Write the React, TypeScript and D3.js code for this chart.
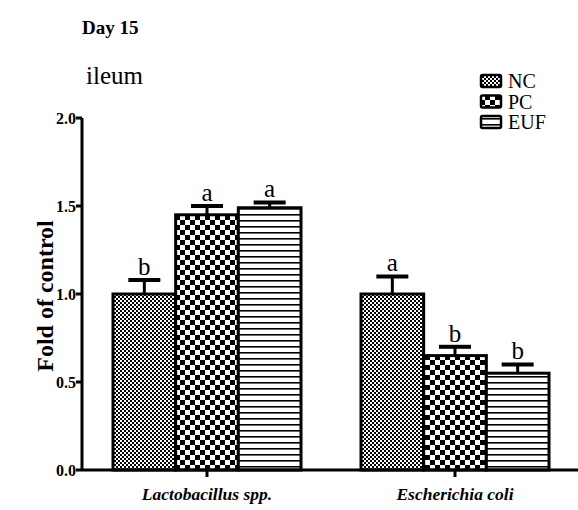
import { useEffect, useRef } from "react";
import * as d3 from "d3";

const categories = ["Lactobacillus spp.", "Escherichia coli"];
const groups = ["NC", "PC", "EUF"];
const means = [
  [1.0, 1.45, 1.49],
  [1.0, 0.65, 0.55],
];
const errors = [
  [0.08, 0.05, 0.03],
  [0.1, 0.05, 0.05],
];
const letters = [
  ["b", "a", "a"],
  ["a", "b", "b"],
];
const yTicks = [0, 0.5, 1.0, 1.5, 2.0];

export default function App() {
  const svgRef = useRef<SVGSVGElement | null>(null);

  useEffect(() => {
    if (!svgRef.current) return;
    const svg = d3.select(svgRef.current);
    svg.selectAll("*").remove();

    const W = 578;
    const serif = "'Liberation Serif', serif";

    // patterns
    const defs = svg.append("defs");
    const nc = defs
      .append("pattern")
      .attr("id", "pNC")
      .attr("patternUnits", "userSpaceOnUse")
      .attr("width", 4)
      .attr("height", 4);
    nc.append("rect").attr("width", 4).attr("height", 4).attr("fill", "#000");
    nc.append("rect").attr("width", 2).attr("height", 2).attr("fill", "#fff");
    nc.append("rect").attr("x", 2).attr("y", 2).attr("width", 2).attr("height", 2).attr("fill", "#fff");

    const pc = defs
      .append("pattern")
      .attr("id", "pPC")
      .attr("patternUnits", "userSpaceOnUse")
      .attr("width", 10)
      .attr("height", 10);
    pc.append("rect").attr("width", 10).attr("height", 10).attr("fill", "#fff");
    pc.append("rect").attr("width", 5).attr("height", 5).attr("fill", "#000");
    pc.append("rect").attr("x", 5).attr("y", 5).attr("width", 5).attr("height", 5).attr("fill", "#000");

    const euf = defs
      .append("pattern")
      .attr("id", "pEUF")
      .attr("patternUnits", "userSpaceOnUse")
      .attr("width", 6)
      .attr("height", 6);
    euf.append("rect").attr("width", 6).attr("height", 6).attr("fill", "#fff");
    euf.append("rect").attr("y", 4).attr("width", 6).attr("height", 1.6).attr("fill", "#000");

    const fills: Record<string, string> = { NC: "url(#pNC)", PC: "url(#pPC)", EUF: "url(#pEUF)" };

    const x0 = 82;
    const y = d3.scaleLinear().domain([0, 2]).range([470, 118]);
    const xc = d3.scalePoint<string>().domain(categories).range([207, 455]);
    const xi = d3.scaleBand<string>().domain(groups).range([-94, 94]).padding(0);

    const g = svg.append("g");

    // bars + error bars
    categories.forEach((cat, ci) => {
      groups.forEach((grp, gi) => {
        const v = means[ci][gi];
        const e = errors[ci][gi];
        const bx = (xc(cat) as number) + (xi(grp) as number);
        const bw = xi.bandwidth();
        const cx = bx + bw / 2;
        g.append("rect")
          .attr("x", bx)
          .attr("y", y(v))
          .attr("width", bw)
          .attr("height", y(0) - y(v))
          .attr("fill", fills[grp])
          .attr("stroke", "#000")
          .attr("stroke-width", 3);
        g.append("line")
          .attr("x1", cx)
          .attr("x2", cx)
          .attr("y1", y(v))
          .attr("y2", y(v + e))
          .attr("stroke", "#000")
          .attr("stroke-width", 3);
        g.append("line")
          .attr("x1", cx - 16)
          .attr("x2", cx + 16)
          .attr("y1", y(v + e))
          .attr("y2", y(v + e))
          .attr("stroke", "#000")
          .attr("stroke-width", 4);
        g.append("text")
          .attr("x", cx)
          .attr("y", y(v + e) - 5)
          .attr("text-anchor", "middle")
          .attr("font-family", serif)
          .attr("font-size", 25)
          .text(letters[ci][gi]);
      });
    });

    // axes
    g.append("line")
      .attr("x1", x0)
      .attr("x2", x0)
      .attr("y1", y(2))
      .attr("y2", y(0))
      .attr("stroke", "#000")
      .attr("stroke-width", 3);
    g.append("line")
      .attr("x1", x0)
      .attr("x2", W)
      .attr("y1", y(0))
      .attr("y2", y(0))
      .attr("stroke", "#000")
      .attr("stroke-width", 3);

    yTicks.forEach((t) => {
      g.append("line")
        .attr("x1", x0 - 6)
        .attr("x2", x0)
        .attr("y1", y(t))
        .attr("y2", y(t))
        .attr("stroke", "#000")
        .attr("stroke-width", 3);
      g.append("text")
        .attr("x", x0 - 6)
        .attr("y", y(t) + 5.5)
        .attr("text-anchor", "end")
        .attr("font-family", serif)
        .attr("font-weight", "bold")
        .attr("font-size", 16)
        .text(t.toFixed(1));
    });

    categories.forEach((cat) => {
      const cx = xc(cat) as number;
      g.append("line")
        .attr("x1", cx)
        .attr("x2", cx)
        .attr("y1", y(0))
        .attr("y2", y(0) + 7)
        .attr("stroke", "#000")
        .attr("stroke-width", 3);
      g.append("text")
        .attr("x", cx)
        .attr("y", 500)
        .attr("text-anchor", "middle")
        .attr("font-family", serif)
        .attr("font-weight", "bold")
        .attr("font-style", "italic")
        .attr("font-size", 17.5)
        .text(cat);
    });

    g.append("text")
      .attr("transform", `translate(53,${(y(0) + y(2)) / 2 + 2}) rotate(-90)`)
      .attr("text-anchor", "middle")
      .attr("font-family", serif)
      .attr("font-weight", "bold")
      .attr("font-size", 24)
      .text("Fold of control");

    g.append("text")
      .attr("x", 82)
      .attr("y", 34)
      .attr("font-family", serif)
      .attr("font-weight", "bold")
      .attr("font-size", 19)
      .text("Day 15");

    g.append("text")
      .attr("x", 86)
      .attr("y", 84)
      .attr("font-family", serif)
      .attr("font-size", 25)
      .text("ileum");

    // legend
    groups.forEach((grp, i) => {
      const ly = 75 + i * 20.5;
      g.append("rect")
        .attr("x", 481)
        .attr("y", ly)
        .attr("width", 20)
        .attr("height", 12)
        .attr("rx", 1.5)
        .attr("fill", fills[grp])
        .attr("stroke", "#000")
        .attr("stroke-width", 2.5);
      g.append("text")
        .attr("x", 508)
        .attr("y", ly + 13)
        .attr("font-family", serif)
        .attr("font-size", 20)
        .text(grp);
    });
  }, []);

  return (
    <svg
      ref={svgRef}
      width={578}
      height={510}
      style={{ position: "absolute", left: 0, top: 0, background: "#fff" }}
    />
  );
}
